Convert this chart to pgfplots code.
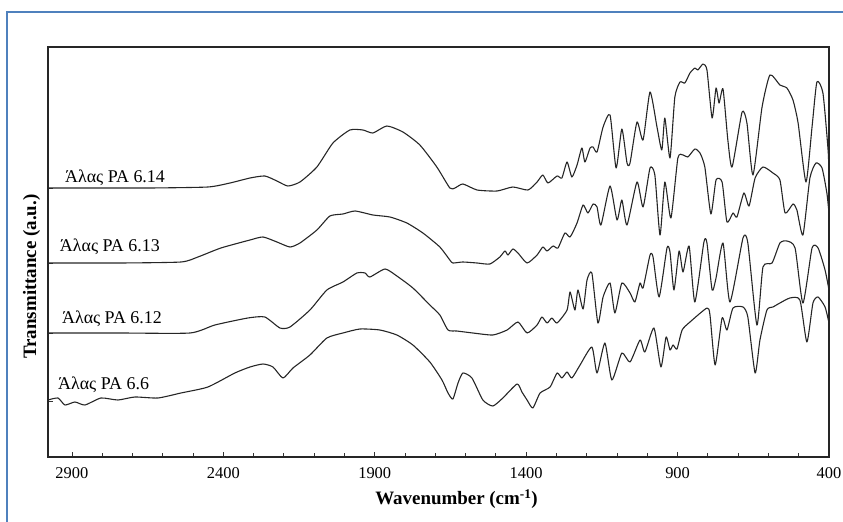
\documentclass[border=0pt]{standalone}
\usepackage{pgfplots}
\pgfplotsset{compat=1.18}
\usepackage{pgfplotstable}
\usepackage{fontspec}
\setmainfont{Liberation Serif}
\definecolor{frameblue}{RGB}{79,129,189}

\pgfplotstableread{
w y
2979 269
2808 269
2642 269
2451 270
2378 274
2312 279
2263 281
2223 276
2187 271
2147 275
2091 290
2038 314
1982 327
1939 327
1906 324
1860 331
1807 325
1751 312
1695 290
1652 269
1635 269
1609 273
1562 267
1496 266
1444 270
1394 267
1364 275
1345 282
1328 274
1298 281
1282 279
1265 295
1249 280
1232 292
1216 309
1206 295
1189 309
1179 310
1166 305
1146 330
1123 342
1103 289
1084 328
1067 294
1057 294
1034 335
1014 317
991 365
968 330
952 307
942 339
925 299
909 360
892 375
876 374
859 384
843 389
833 387
816 393
803 387
786 339
773 369
763 354
750 368
734 317
720 290
687 345
671 334
651 282
621 350
595 382
562 372
539 369
519 357
502 334
476 275
456 330
440 375
420 364
403 307
400 282
}\sA

\pgfplotstableread{
w y
2979 194
2741 194
2540 195
2484 200
2408 209
2312 217
2269 220
2223 215
2180 210
2147 214
2091 227
2048 241
2005 243
1965 246
1906 242
1850 240
1794 234
1741 224
1685 210
1652 197
1642 194
1609 195
1562 194
1520 193
1487 200
1470 206
1460 202
1444 208
1427 204
1397 194
1364 202
1345 210
1331 206
1311 211
1295 209
1272 224
1255 220
1232 234
1212 252
1196 244
1179 253
1166 250
1153 232
1123 271
1100 237
1084 257
1067 232
1034 275
1014 250
991 289
975 282
958 222
942 275
922 239
899 299
882 302
866 300
843 308
826 304
810 290
790 243
773 277
753 275
737 235
717 244
704 240
681 264
664 251
644 279
618 290
585 284
562 277
545 244
519 253
506 247
486 222
463 279
443 294
423 289
407 264
400 244
}\sB

\pgfplotstableread{
w y
2979 124
2741 124
2510 124
2428 132
2319 139
2263 140
2213 129
2180 130
2114 147
2058 167
2005 175
1959 184
1932 184
1916 180
1866 188
1827 181
1774 169
1718 152
1685 142
1658 127
1629 126
1576 124
1510 122
1463 127
1427 135
1397 124
1364 132
1348 140
1331 134
1315 139
1298 134
1265 147
1255 165
1239 147
1229 167
1212 148
1199 177
1183 184
1163 134
1146 160
1123 174
1107 144
1084 174
1057 164
1041 155
1024 174
1014 169
991 202
981 200
961 160
935 209
925 205
912 167
895 206
882 185
862 211
843 155
813 215
803 214
786 167
773 179
750 214
727 155
684 219
668 214
638 132
618 190
588 194
562 214
539 216
512 209
486 154
456 209
436 209
413 187
400 167
}\sC

\pgfplotstableread{
w y
2979 57
2946 59
2923 52
2890 55
2857 52
2804 59
2748 57
2692 60
2616 59
2540 64
2451 70
2362 84
2312 90
2269 93
2236 90
2203 79
2170 89
2114 102
2058 119
2005 124
1949 128
1883 127
1827 122
1774 112
1718 95
1678 77
1658 64
1642 58
1625 74
1609 84
1579 79
1543 57
1510 51
1477 59
1430 73
1414 65
1397 57
1378 49
1354 64
1321 70
1298 84
1282 79
1265 85
1249 79
1222 92
1183 110
1166 84
1140 114
1117 77
1084 104
1057 95
1024 117
1008 105
978 129
955 90
938 120
925 107
915 112
902 108
885 127
859 135
803 149
793 142
776 92
753 139
737 127
717 149
684 150
668 140
644 84
628 117
605 147
585 150
562 154
529 159
496 157
473 115
453 154
436 160
413 150
400 134
}\sD

\begin{document}
\begin{tikzpicture}
\begin{axis}[
  at={(0,0)}, anchor=south west,
  scale only axis, width=781bp, height=410bp,
  xmin=400, xmax=2979, ymin=0, ymax=410,
  x dir=reverse,
  xtick={400,900,...,2900},
  minor xtick={500,600,...,2900},
  ytick={56,124,194,269},
  yticklabels={},
  xtick pos=bottom, ytick pos=left,
  tick align=inside,
  major tick length=5bp, minor tick length=4bp,
  axis line style={line width=1.2bp, black!85},
  tick style={black!80, line width=0.8bp},
  ticklabel style={font=\fontsize{16.5}{18}\selectfont},
  xticklabel style={yshift=-7bp},
  /pgf/number format/assume math mode=true,
  /pgf/number format/1000 sep={},
  xlabel={\textbf{Wavenumber (cm\textsuperscript{-1})}},
  xlabel style={font=\fontsize{19}{21}\selectfont, xshift=18bp, yshift=-4bp},
  ylabel={\textbf{Transmittance (a.u.)}},
  ylabel style={font=\fontsize{19}{21}\selectfont, at={(axis description cs:-0.021,0.44)}, anchor=center},
]
\addplot[black!85, line width=1.1bp, no markers, smooth, tension=0.35, line join=round] table[x=w, y=y] {\sA};
\addplot[black!85, line width=1.1bp, no markers, smooth, tension=0.35, line join=round] table[x=w, y=y] {\sB};
\addplot[black!85, line width=1.1bp, no markers, smooth, tension=0.35, line join=round] table[x=w, y=y] {\sC};
\addplot[black!85, line width=1.1bp, no markers, smooth, tension=0.35, line join=round] table[x=w, y=y] {\sD};
\node[anchor=west, inner sep=0pt, font=\fontsize{18}{20}\selectfont] at (axis cs:2923,279) {Άλας PA 6.14};
\node[anchor=west, inner sep=0pt, font=\fontsize{18}{20}\selectfont] at (axis cs:2940,210) {Άλας PA 6.13};
\node[anchor=west, inner sep=0pt, font=\fontsize{18}{20}\selectfont] at (axis cs:2933,138) {Άλας PA 6.12};
\node[anchor=west, inner sep=0pt, font=\fontsize{18}{20}\selectfont] at (axis cs:2946,72) {Άλας PA 6.6};
\end{axis}
\draw[frameblue, line width=2bp] (795bp,445bp) -- (-41bp,445bp) -- (-41bp,-65bp);
\pgfresetboundingbox
\path[use as bounding box] (-48bp,-65bp) rectangle (795bp,457bp);
\end{tikzpicture}
\end{document}
